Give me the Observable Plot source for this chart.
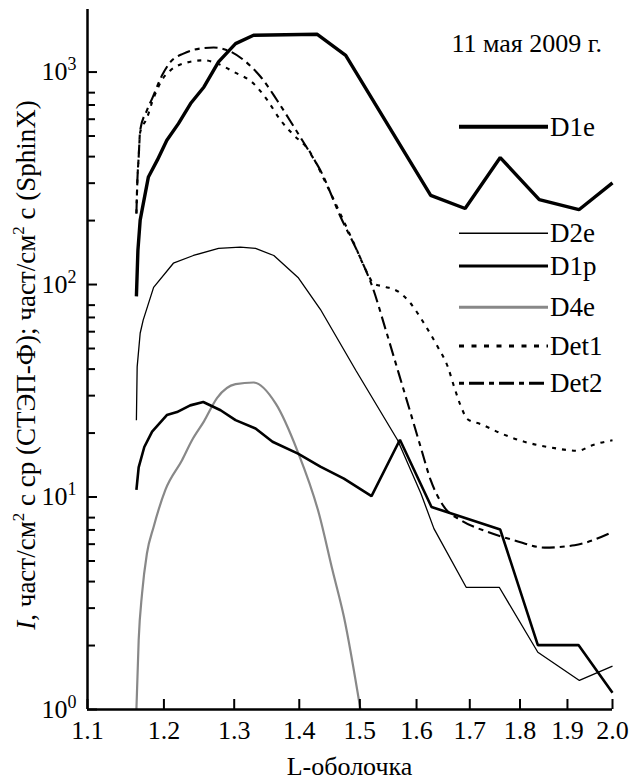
<!DOCTYPE html>
<html><head><meta charset="utf-8">
<script src="https://cdn.jsdelivr.net/npm/d3@7"></script>
<script src="https://cdn.jsdelivr.net/npm/@observablehq/plot@0.6"></script>
<style>
html,body{margin:0;padding:0;background:#fff;}
#chart svg{display:block;}
#chart svg, #chart svg text{font-family:"Liberation Serif","Times New Roman",Times,Tinos,"Noto Serif","DejaVu Serif",FreeSerif,serif !important;}
</style></head><body><div id="chart"></div>
<script>
// ---- data ----
const seriesNames = ["D1e", "D2e", "D1p", "D4e", "Det1", "Det2"];
const xTicks = [1.1, 1.2, 1.3, 1.4, 1.5, 1.6, 1.7, 1.8, 1.9, 2.0];
const yMajorTicks = [1, 10, 100, 1000];
const yMinorTicks = [2, 3, 4, 5, 6, 7, 8, 20, 30, 40, 50, 60, 70, 80, 200, 300, 400, 500, 600, 700, 800];
const dateLabel = "11 мая 2009 г.";
const xLabel = "L-оболочка";

const d1eL = [1.163,1.165,1.168,1.1705,1.179,1.191,1.204,1.220,1.237,1.256,1.277,1.302,1.329,1.429,1.476,1.626,1.691,1.760,1.840,1.925,2.0];
const d1eI = [88,145,201,224,321,385,478,572,711,851,1116,1361,1490,1506,1199,263,228,396,251,225,301];

const d2eL = [1.163,1.164,1.168,1.172,1.186,1.213,1.241,1.277,1.309,1.332,1.360,1.398,1.434,1.493,1.566,1.608,1.632,1.693,1.758,1.837,1.926,2.0];
const d2eI = [23,41,59,68,97,126,137,148,150,148,137,108,76.5,39.5,18.5,10.4,7.1,3.76,3.76,1.86,1.37,1.6];

const d1pL = [1.163,1.166,1.1735,1.184,1.204,1.218,1.2365,1.255,1.280,1.302,1.332,1.358,1.398,1.434,1.473,1.520,1.570,1.6275,1.760,1.837,1.924,2.0];
const d1pI = [10.8,13.8,17.2,20.3,24.3,25.1,27.0,28.0,25.6,23.0,21.0,18.2,16.0,13.9,12.2,10.1,18.6,8.98,7.03,2.01,2.01,1.2];

const d4eL = [1.163,1.166,1.1705,1.177,1.186,1.202,1.225,1.239,1.256,1.275,1.302,1.329,1.363,1.397,1.432,1.454,1.473,1.501];
const d4eI = [1.0,2.12,3.51,5.42,7.23,10.8,14.9,18.5,22.7,29.3,34.0,34.6,27.5,16.5,8.3,4.52,2.73,1.0];

const det1L = [1.163,1.1643,1.166,1.168,1.177,1.184,1.200,1.209,1.227,1.256,1.275,1.299,1.329,1.350,1.3705,1.3915,1.413,1.446,1.4675,1.490,1.513,1.524,1.545,1.568,1.5895,1.614,1.639,1.658,1.670,1.686,1.695,1.722,1.762,1.809,1.865,1.923,1.953,2.0];
const det1I = [216,310,398,521,606,721,948,1019,1097,1136,1097,1003,883,737,593,504,438,288,214,156,113,101,97.5,92.3,81.4,65.5,50.9,41,33,25.6,23.3,22.0,19.9,18.2,17.1,16.5,17.5,18.5];

const det2L = [1.163,1.1643,1.166,1.168,1.177,1.184,1.1975,1.209,1.227,1.251,1.270,1.290,1.3145,1.340,1.365,1.3915,1.418,1.434,1.4675,1.500,1.5216,1.545,1.568,1.5895,1.6075,1.626,1.651,1.683,1.735,1.788,1.851,1.9155,2.0];
const det2I = [216,310,398,532,661,750,966,1116,1222,1291,1304,1267,1136,948,737,552,413,345,208,135,97.5,61,38.1,24.7,17.2,12.0,8.98,7.78,6.85,6.26,5.78,5.93,6.85];

// ---- styles ----
const styles = {
  D1e:  {stroke: "#000", strokeWidth: 3.4, dash: null, curve: "linear", legendWidth: 4, legendDash: null},
  D2e:  {stroke: "#000", strokeWidth: 1.3, dash: null, curve: "linear", legendWidth: 1.4, legendDash: null},
  D1p:  {stroke: "#000", strokeWidth: 2.6, dash: null, curve: "linear", legendWidth: 3, legendDash: null},
  D4e:  {stroke: "#888", strokeWidth: 2.2, dash: null, curve: "monotone-x", legendWidth: 3, legendDash: null},
  Det1: {stroke: "#000", strokeWidth: 2.1, dash: "4,6", curve: "monotone-x", legendWidth: 3, legendDash: "5,7.5"},
  Det2: {stroke: "#000", strokeWidth: 2.1, dash: "13,5,5,5", curve: "monotone-x", legendWidth: 3, legendDash: "5,5,15,5"}
};

const rows = (name, L, I) => L.map((l, i) => ({series: name, L: l, I: I[i]}));
const data = {
  D1e: rows("D1e", d1eL, d1eI),
  D2e: rows("D2e", d2eL, d2eI),
  D1p: rows("D1p", d1pL, d1pI),
  D4e: rows("D4e", d4eL, d4eI),
  Det1: rows("Det1", det1L, det1I),
  Det2: rows("Det2", det2L, det2I)
};

const FONT = "'Liberation Serif', 'Times New Roman', Times, Tinos, 'Noto Serif', 'DejaVu Serif', FreeSerif, serif";
const W = 629, H = 782;
const M = {left: 87, right: 17, top: 9, bottom: 73};

const lineMarks = ["D4e", "D2e", "D1p", "Det1", "Det2", "D1e"].map(name => {
  const s = styles[name];
  return Plot.line(data[name], {
    x: "L", y: "I", stroke: s.stroke, strokeWidth: s.strokeWidth,
    strokeDasharray: s.dash, curve: s.curve, strokeLinejoin: "miter", strokeLinecap: "butt"
  });
});

const chart = Plot.plot({
  width: W, height: H,
  marginLeft: M.left, marginRight: M.right, marginTop: M.top, marginBottom: M.bottom,
  style: {fontFamily: FONT, fontSize: "26px", background: "white", color: "black", overflow: "visible"},
  x: {type: "log", domain: [1.1, 2.0]},
  y: {type: "log", domain: [1, 1970]},
  marks: [
    ...lineMarks,
    Plot.axisX({ticks: xTicks, tickSize: -10, fill: "none", label: null, strokeWidth: 2}),
    Plot.axisX({ticks: xTicks, tickSize: 0, stroke: "none", tickPadding: 11, tickFormat: d => d.toFixed(1), label: null}),
    Plot.axisY({ticks: yMajorTicks, tickSize: -10, fill: "none", label: null, strokeWidth: 2}),
    Plot.axisY({ticks: yMinorTicks, tickSize: -8, fill: "none", label: null, strokeWidth: 2}),
    Plot.axisY({ticks: yMajorTicks, tickSize: 0, stroke: "none", tickPadding: 11, tickFormat: d => "10^" + Math.round(Math.log10(d)), label: null}),
    Plot.ruleX([1.1], {strokeWidth: 2.5}),
    Plot.ruleY([1], {strokeWidth: 2.5})
  ]
});

document.getElementById("chart").append(chart);

const NS = "http://www.w3.org/2000/svg";
const svg = chart.tagName.toLowerCase() === "svg" ? chart : chart.querySelector("svg");
function el(tag, attrs, parent) {
  const e = document.createElementNS(NS, tag);
  for (const k in attrs) e.setAttribute(k, attrs[k]);
  (parent || svg).appendChild(e);
  return e;
}

// superscript exponents on y tick labels
svg.querySelectorAll('g[aria-label="y-axis tick label"] text').forEach(t => {
  const m = /^10\^(\d)$/.exec(t.textContent.trim());
  if (!m) return;
  while (t.firstChild) t.removeChild(t.firstChild);
  t.appendChild(document.createTextNode("10"));
  const sup = document.createElementNS(NS, "tspan");
  sup.setAttribute("dy", "-10");
  sup.setAttribute("font-size", "18");
  sup.textContent = m[1];
  t.appendChild(sup);
});

// x-axis label
const xl = el("text", {x: (M.left + W - M.right) / 2, y: 775, "text-anchor": "middle", "font-size": 26, fill: "#000"});
xl.textContent = xLabel;

// y-axis label with italic I and superscripts
const yl = el("text", {transform: `translate(35,${(M.top + H - M.bottom) / 2 + 6}) rotate(-90)`, "text-anchor": "middle", "font-size": 27, fill: "#000"});
const parts = [
  ["I", {"font-style": "italic"}],
  [", част/см", {}],
  ["2", {dy: -11, "font-size": 17}],
  [" с ср (СТЭП-Ф); част/см", {dy: 11}],
  ["2", {dy: -11, "font-size": 17}],
  [" с (SphinX)", {dy: 11}]
];
parts.forEach(([txt, a]) => { const ts = el("tspan", a, yl); ts.textContent = txt; });

// date label
const dl = el("text", {x: 602, y: 52, "text-anchor": "end", "font-size": 26, fill: "#000"});
dl.textContent = dateLabel;

// legend
const legendY = {D1e: 126.7, D2e: 233.3, D1p: 266, D4e: 307.3, Det1: 346, Det2: 383.3};
seriesNames.forEach(name => {
  const s = styles[name];
  const y = legendY[name];
  const ln = el("line", {x1: 459, x2: 548, y1: y, y2: y, stroke: s.stroke, "stroke-width": s.legendWidth});
  if (s.legendDash) ln.setAttribute("stroke-dasharray", s.legendDash);
  const tx = el("text", {x: 550, y: y + 9, "text-anchor": "start", "font-size": 27, fill: "#000"});
  tx.textContent = name;
});
</script>
</body></html>
